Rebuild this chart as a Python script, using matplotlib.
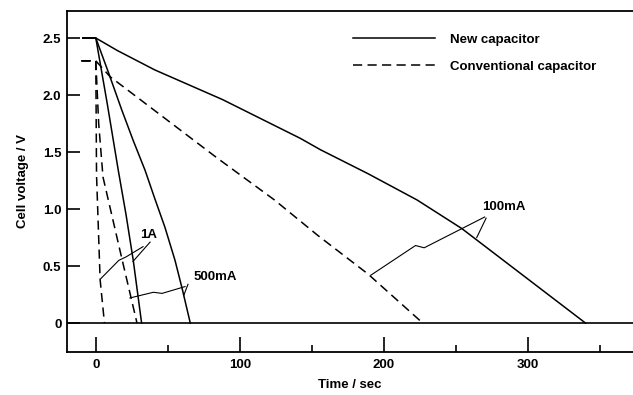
import matplotlib
matplotlib.use('Agg')
import matplotlib.pyplot as plt
from matplotlib.ticker import MultipleLocator

plt.rcParams['font.family'] = ['Liberation Sans', 'DejaVu Sans']
plt.rcParams['font.weight'] = 'bold'

# discharge curves, time in s, voltage in V
new_1A_t = [-9, 0, 8, 15.6, 21, 26, 31.8]
new_1A_v = [2.5, 2.5, 1.92, 1.34, 0.95, 0.55, 0.0]
new_500_t = [-9, 0, 9, 18, 26, 34.2, 41, 48, 55, 60, 65.6]
new_500_v = [2.5, 2.5, 2.19, 1.87, 1.6, 1.34, 1.09, 0.84, 0.55, 0.3, 0.0]
new_100_t = [-9, 0, 15, 41, 88, 142, 156, 189, 223, 254, 340]
new_100_v = [2.5, 2.5, 2.39, 2.22, 1.96, 1.62, 1.52, 1.31, 1.08, 0.83, 0.0]

conv_1A_t = [-10, 0, 0.5, 3, 6]
conv_1A_v = [2.3, 2.3, 1.3, 0.38, 0.0]
conv_500_t = [-10, 0, 2, 5, 18, 28.6]
conv_500_v = [2.3, 2.3, 1.75, 1.28, 0.57, 0.0]
conv_100_t = [-10, 0, 10, 84, 124, 154, 189, 227]
conv_100_v = [2.3, 2.3, 2.16, 1.45, 1.08, 0.77, 0.43, 0.0]

# labels with their leader lines (text pos, leader ends)
ann_text = ['1A', '500mA', '100mA']
ann_xy = [(30.5, 0.77), (67.7, 0.40), (268, 1.02)]
ann_leaders = [
    [[(3.5, 0.39), (16, 0.55), (21, 0.58), (32.8, 0.67)], [(25.8, 0.54), (37.7, 0.71)]],
    [[(23.7, 0.22), (40, 0.27), (46, 0.26), (62, 0.32)], [(61, 0.24), (64, 0.34)]],
    [[(191, 0.42), (222, 0.68), (228, 0.66), (270, 0.93)], [(264.5, 0.75), (271, 0.92)]],
]

fig = plt.figure(figsize=(6.33, 3.95), dpi=100)
ax = fig.add_axes([67 / 633, 1 - 352 / 395, 1 - 67 / 633, 341 / 395])

lw = 1.1
dash = (0, (6, 3.5))
ln_new, = ax.plot(new_100_t, new_100_v, color='black', lw=lw, label='New capacitor')
ax.plot(new_500_t, new_500_v, color='black', lw=lw)
ax.plot(new_1A_t, new_1A_v, color='black', lw=lw)
ln_conv, = ax.plot(conv_100_t, conv_100_v, color='black', lw=lw, linestyle=dash,
                   label='Conventional capacitor')
ax.plot(conv_500_t, conv_500_v, color='black', lw=lw, linestyle=dash)
ax.plot(conv_1A_t, conv_1A_v, color='black', lw=lw, linestyle=dash)

ax.axhline(0, color='black', lw=1.2)

for txt, pos, leaders in zip(ann_text, ann_xy, ann_leaders):
    ax.text(pos[0], pos[1], txt, fontsize=9.5, fontweight='bold', va='center', ha='left')
    for seg in leaders:
        xs = [p[0] for p in seg]
        ys = [p[1] for p in seg]
        ax.plot(xs, ys, color='black', lw=0.8)

ax.set_xlim(-20, 373)
ax.set_ylim(-0.254, 2.737)
ax.xaxis.set_major_locator(MultipleLocator(100))
ax.xaxis.set_minor_locator(MultipleLocator(50))
ax.set_yticks([0, 0.5, 1.0, 1.5, 2.0, 2.5])
ax.set_yticklabels(['0', '0.5', '1.0', '1.5', '2.0', '2.5'])

ax.tick_params(axis='both', which='major', direction='in', width=1.2, labelsize=9.5)
ax.tick_params(axis='x', which='major', length=11, pad=5)
ax.tick_params(axis='x', which='minor', direction='in', length=5, width=1.2)
ax.tick_params(axis='y', which='major', length=9, pad=4)
ax.tick_params(top=False, right=False)

ax.spines['right'].set_visible(False)
for s in ['left', 'top', 'bottom']:
    ax.spines[s].set_linewidth(1.3)

ax.set_xlabel('Time / sec', fontsize=9.5, fontweight='bold', labelpad=6)
ax.set_ylabel('Cell voltage / V', fontsize=9.5, fontweight='bold', labelpad=10)

ax.legend(handles=[ln_new, ln_conv], loc='upper left', bbox_to_anchor=(0.506, 0.933),
          frameon=False, borderpad=0, borderaxespad=0, handlelength=6.2,
          handletextpad=1.1, labelspacing=1.1, prop={'size': 9.5, 'weight': 'bold'})

fig.savefig('out.png', dpi=100)
